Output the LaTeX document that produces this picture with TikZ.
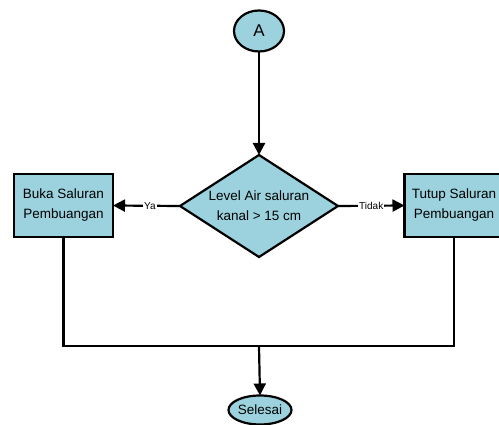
\documentclass[tikz,border=0pt]{standalone}
\usepackage{fontspec}
\setmainfont{Liberation Sans}
\usetikzlibrary{shapes.geometric,arrows.meta}
\definecolor{fillblue}{RGB}{155,210,222}
\begin{document}
\begin{tikzpicture}[x=1pt,y=-1pt,
  every node/.style={inner sep=0pt,outer sep=0pt},
  shapebase/.style={draw=black,line width=2.2pt,fill=fillblue,font=\fontsize{13.5}{20}\selectfont,align=center},
  termin/.style={shapebase,ellipse},
  procbox/.style={shapebase,rectangle,minimum width=99pt,minimum height=63pt},
  decis/.style={shapebase,diamond,minimum width=158pt,minimum height=102pt},
  txt/.style={font=\fontsize{13.5}{20}\selectfont,align=center},
  conn/.style={line width=2.2pt,-{Triangle[length=12pt,width=12pt]}},
  plainline/.style={line width=2.2pt},
  elabel/.style={fill=white,font=\fontsize{10}{12}\selectfont,inner sep=1pt}
]
\useasboundingbox (0,0) rectangle (499,425);
\node[termin,minimum width=50pt,minimum height=41pt,font=\fontsize{17}{20}\selectfont] (A) at (259,31) {A};
\node[decis] (D) at (259,206) {};
\node[txt] (DT) at (D.center) {Level Air saluran\\kanal > 15 cm};
\node[procbox] (L) at (63.5,205.5) {Buka Saluran\\Pembuangan};
\node[procbox] (R) at (454,205.5) {Tutup Saluran\\Pembuangan};
\node[termin,minimum width=63pt,minimum height=29pt] (S) at (260,410) {Selesai};
\coordinate (J) at (259,346);
\coordinate (JL) at (63.5,346);
\coordinate (JR) at (454,346);
\draw[conn] (A.south) -- (D.north);
\draw[conn] (D.west) -- node[elabel,pos=0.45] {Ya} (L.east);
\draw[conn] (D.east) -- node[elabel,pos=0.5] {Tidak} (R.west);
\draw[plainline] (L.south) -- (JL) -- (JR) -- (R.south);
\draw[conn] (J) -- (S.north);
\end{tikzpicture}
\end{document}
